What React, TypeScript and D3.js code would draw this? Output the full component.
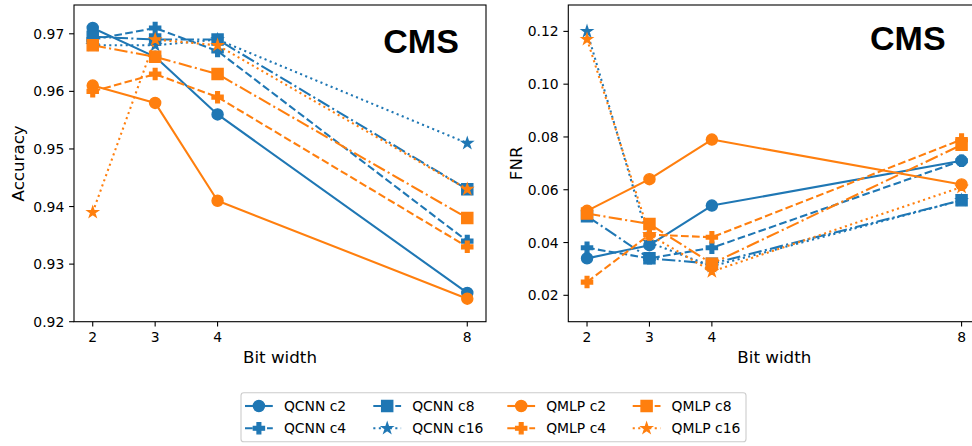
import React from "react";
import * as d3 from "d3";

const bitWidths = [2, 3, 4, 8];
const xTicks = [2, 3, 4, 8];
const accTicks = [0.92, 0.93, 0.94, 0.95, 0.96, 0.97];
const fnrTicks = [0.02, 0.04, 0.06, 0.08, 0.1, 0.12];

const seriesNames = ["QCNN c2", "QCNN c4", "QCNN c8", "QCNN c16", "QMLP c2", "QMLP c4", "QMLP c8", "QMLP c16"];

const accQcnnC2 = [0.971, 0.966, 0.956, 0.925];
const accQcnnC4 = [0.969, 0.971, 0.967, 0.934];
const accQcnnC8 = [0.9695, 0.969, 0.969, 0.943];
const accQcnnC16 = [0.968, 0.968, 0.969, 0.951];
const accQmlpC2 = [0.961, 0.958, 0.941, 0.924];
const accQmlpC4 = [0.96, 0.963, 0.959, 0.933];
const accQmlpC8 = [0.968, 0.966, 0.963, 0.938];
const accQmlpC16 = [0.939, 0.969, 0.968, 0.943];

const fnrQcnnC2 = [0.034, 0.039, 0.054, 0.071];
const fnrQcnnC4 = [0.038, 0.034, 0.038, 0.071];
const fnrQcnnC8 = [0.05, 0.034, 0.032, 0.056];
const fnrQcnnC16 = [0.12, 0.04, 0.031, 0.056];
const fnrQmlpC2 = [0.052, 0.064, 0.079, 0.062];
const fnrQmlpC4 = [0.025, 0.043, 0.042, 0.079];
const fnrQmlpC8 = [0.051, 0.047, 0.032, 0.077];
const fnrQmlpC16 = [0.117, 0.043, 0.029, 0.061];

const accSeries = [accQcnnC2, accQcnnC4, accQcnnC8, accQcnnC16, accQmlpC2, accQmlpC4, accQmlpC8, accQmlpC16];
const fnrSeries = [fnrQcnnC2, fnrQcnnC4, fnrQcnnC8, fnrQcnnC16, fnrQmlpC2, fnrQmlpC4, fnrQmlpC8, fnrQmlpC16];

const BLUE = "#1f77b4";
const ORANGE = "#ff7f0e";
const colors = [BLUE, BLUE, BLUE, BLUE, ORANGE, ORANGE, ORANGE, ORANGE];
const markers = ["circle", "plus", "square", "star", "circle", "plus", "square", "star"];
const dashes = ["", "7.7,3.3", "13.3,3.3,2.1,3.3", "2.1,3.4", "", "7.7,3.3", "13.3,3.3,2.1,3.3", "2.1,3.4"];

const W = 972;
const H = 446;
const MS = 11.1;
const LW = 2.08;
const FONT = "DejaVu Sans";
const TICK_FS = 13.9;
const LABEL_FS = 16.7;

function markerPath(kind: string, s: number): string {
  const h = s / 2;
  if (kind === "square") return `M${-h},${-h}H${h}V${h}H${-h}Z`;
  if (kind === "plus") {
    const t = s / 6;
    return `M${-t},${-h}H${t}V${-t}H${h}V${t}H${t}V${h}H${-t}V${t}H${-h}V${-t}H${-t}Z`;
  }
  if (kind === "star") {
    const R = h;
    const r = R * 0.381966;
    const pts: string[] = [];
    for (let i = 0; i < 10; i++) {
      const a = -Math.PI / 2 + (i * Math.PI) / 5;
      const rr = i % 2 === 0 ? R : r;
      pts.push(`${(rr * Math.cos(a)).toFixed(2)},${(rr * Math.sin(a)).toFixed(2)}`);
    }
    return "M" + pts.join("L") + "Z";
  }
  return d3.arc()({ innerRadius: 0, outerRadius: h, startAngle: 0, endAngle: 2 * Math.PI } as any) || "";
}

function Marker({ kind, x, y, color }: { kind: string; x: number; y: number; color: string }) {
  return (
    <path
      d={markerPath(kind, MS)}
      transform={`translate(${x},${y})`}
      fill={color}
      stroke={color}
      strokeWidth={1.39}
      strokeLinejoin="miter"
    />
  );
}

type PanelProps = {
  x0: number;
  x1: number;
  yDomain: [number, number];
  ticks: number[];
  tickFmt: (v: number) => string;
  data: number[][];
  ylabel: string;
  ylabelX: number;
  cms: [number, number];
};

function Panel({ x0, x1, yDomain, ticks, tickFmt, data, ylabel, ylabelX, cms }: PanelProps) {
  const top = 5;
  const bottom = 321.7;
  const xs = d3.scaleLinear().domain([1.7, 8.3]).range([x0, x1]);
  const ys = d3.scaleLinear().domain(yDomain).range([bottom, top]);
  const line = d3
    .line<number>()
    .x((_, i) => xs(bitWidths[i]))
    .y((d) => ys(d));
  const tickLen = 4.9;
  return (
    <g>
      {data.map((vals, si) => (
        <g key={si}>
          <path
            d={line(vals) || ""}
            fill="none"
            stroke={colors[si]}
            strokeWidth={LW}
            strokeDasharray={dashes[si] || undefined}
            strokeLinejoin="round"
            strokeLinecap="butt"
          />
          {vals.map((v, i) => (
            <Marker key={i} kind={markers[si]} x={xs(bitWidths[i])} y={ys(v)} color={colors[si]} />
          ))}
        </g>
      ))}
      <rect x={x0} y={top} width={x1 - x0} height={bottom - top} fill="none" stroke="#000" strokeWidth={1.1} />
      {ticks.map((t) => (
        <g key={t}>
          <line x1={x0 - tickLen} x2={x0} y1={ys(t)} y2={ys(t)} stroke="#000" strokeWidth={1.1} />
          <text
            x={x0 - 9.7}
            y={ys(t) + 5}
            textAnchor="end"
            fontFamily={FONT}
            fontSize={TICK_FS}
            fill="#000"
          >
            {tickFmt(t)}
          </text>
        </g>
      ))}
      {xTicks.map((t) => (
        <g key={t}>
          <line x1={xs(t)} x2={xs(t)} y1={bottom} y2={bottom + tickLen} stroke="#000" strokeWidth={1.1} />
          <text x={xs(t)} y={341.6} textAnchor="middle" fontFamily={FONT} fontSize={TICK_FS} fill="#000">
            {t}
          </text>
        </g>
      ))}
      <text x={(x0 + x1) / 2} y={362.5} textAnchor="middle" fontFamily={FONT} fontSize={LABEL_FS} fill="#000">
        Bit width
      </text>
      <text
        transform={`translate(${ylabelX},${(top + bottom) / 2}) rotate(-90)`}
        textAnchor="middle"
        fontFamily={FONT}
        fontSize={LABEL_FS}
        fill="#000"
      >
        {ylabel}
      </text>
      <text
        x={cms[0]}
        y={cms[1]}
        fontFamily="Liberation Sans, Arial, sans-serif"
        fontWeight="bold"
        fontSize={34}
        fill="#000"
      >
        CMS
      </text>
    </g>
  );
}

function Legend() {
  const colX = [245, 373.3, 507.3, 632.7];
  const rowY = [406, 428.3];
  const handleLen = 27.8;
  const textOff = 38.9;
  return (
    <g>
      <rect x={241} y={392.7} width={505} height={49} rx={2.8} ry={2.8} fill="#fff" fillOpacity={0.8} stroke="#cccccc" strokeWidth={1.1} />
      {seriesNames.map((name, i) => {
        const col = Math.floor(i / 2);
        const row = i % 2;
        const hx = colX[col];
        const y = rowY[row];
        return (
          <g key={name}>
            <line
              x1={hx}
              x2={hx + handleLen}
              y1={y}
              y2={y}
              stroke={colors[i]}
              strokeWidth={LW}
              strokeDasharray={dashes[i] || undefined}
            />
            <Marker kind={markers[i]} x={hx + handleLen / 2} y={y} color={colors[i]} />
            <text x={hx + textOff} y={y + 5} fontFamily={FONT} fontSize={TICK_FS} fill="#000">
              {name}
            </text>
          </g>
        );
      })}
    </g>
  );
}

export default function App() {
  return (
    <svg
      width={W}
      height={H}
      viewBox={`0 0 ${W} ${H}`}
      style={{ position: "absolute", left: 0, top: 0, background: "#fff" }}
    >
      <rect x={0} y={0} width={W} height={H} fill="#fff" />
      <Panel
        x0={74}
        x1={486}
        yDomain={[0.92, 0.975]}
        ticks={accTicks}
        tickFmt={(v) => v.toFixed(2)}
        data={accSeries}
        ylabel="Accuracy"
        ylabelX={23.9}
        cms={[383.3, 53.3]}
      />
      <Panel
        x0={568.3}
        x1={980.3}
        yDomain={[0.01, 0.13]}
        ticks={fnrTicks}
        tickFmt={(v) => v.toFixed(2)}
        data={fnrSeries}
        ylabel="FNR"
        ylabelX={522.3}
        cms={[870, 50]}
      />
      <Legend />
    </svg>
  );
}
